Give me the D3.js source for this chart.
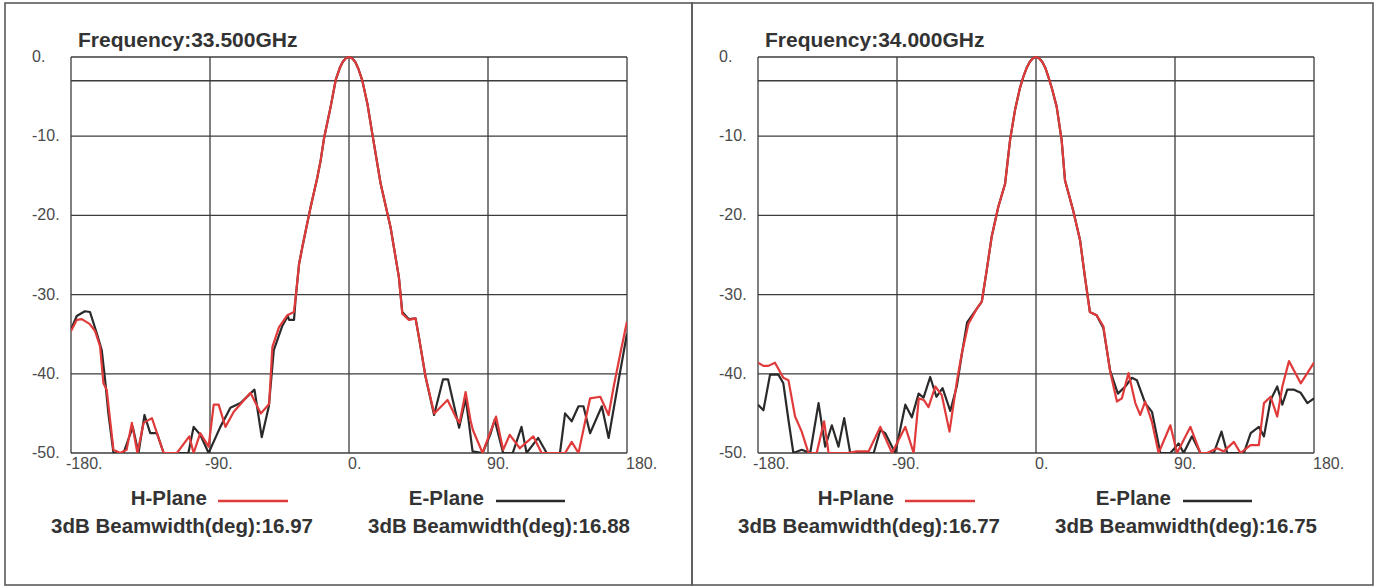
<!DOCTYPE html>
<html>
<head>
<meta charset="utf-8">
<script src="https://cdn.jsdelivr.net/npm/d3@7"></script>
<style>
  html, body { margin: 0; padding: 0; background: #fff; }
  svg { display: block; }
</style>
</head>
<body>
<svg id="chart" width="1386" height="588"></svg>
<script>
// ---------- data ----------
const frequencies = ["Frequency:33.500GHz", "Frequency:34.000GHz"];
const beamwidthH = ["16.97", "16.77"];
const beamwidthE = ["16.88", "16.75"];
const xTicks = [-180, -90, 0, 90, 180];
const yTicks = [0, -10, -20, -30, -40, -50];
const halfPowerLine = -3;

// 33.5 GHz, H-plane [angle deg, level dB]
const h335 = [[-180,-34.6],[-176.3,-33.2],[-173,-33.1],[-168,-33.7],[-164.4,-34.6],[-161.2,-36.5],[-159,-41.2],[-156.9,-42],
  [-152.5,-49.6],[-148.2,-50],[-144,-49.6],[-140.6,-46.2],[-137,-50],[-133,-46.2],[-127.6,-45.6],[-120,-50],[-111.4,-50],
  [-103.4,-47.9],[-100.6,-50],[-96.3,-47.5],[-90.9,-49.2],[-87.6,-43.9],[-84.4,-43.9],[-80,-46.7],[-74.6,-44.8],[-63.8,-42.4],
  [-57.1,-45],[-53,-44.1],[-51.7,-43.8],[-49.6,-36.6],[-45.3,-34.1],[-39.9,-32.6],[-35.7,-32.2],[-34.5,-30.3],[-32.3,-26.1],
  [-30.2,-24],[-28,-21.9],[-24.8,-18.9],[-20.5,-15.2],[-18.3,-13],[-16.2,-10.3],[-11.9,-6.3],[-8.6,-2.9],[-6,-1.4],[-4,-0.6],
  [-2,-0.15],[0,0],[2,-0.15],[4,-0.6],[6,-1.45],
  [8.6,-2.95],[12,-6],[15.1,-9.7],[20.5,-16],[26.9,-21.5],[32.3,-27.8],[34.5,-32.4],[38.8,-33.2],[43.1,-33],
  [45.3,-35.4],[49.6,-40.4],[55.2,-45],[63.8,-43.3],[69.5,-45.6],[71.6,-46.2],[75.5,-42.3],[78.7,-45.9],[80.2,-47.1],
  [86.5,-50],[95.2,-45.4],[99.8,-49.6],[104.1,-47.7],[110.6,-49.4],[119.3,-47.9],[124.7,-50],[139.9,-50],[144.2,-48.6],
  [148.6,-50],[156.1,-43.1],[162.7,-42.9],[168.1,-45.2],[171.4,-41.6],[175.7,-37.4],[180,-33.4]];

// 33.5 GHz, E-plane
const e335 = [[-180,-34.4],[-176.3,-32.7],[-171,-32.1],[-167.7,-32.2],[-163.3,-34.9],[-160.1,-37],[-157.9,-40.8],[-155.8,-45],
  [-152.5,-50],[-146,-50],[-140,-46.7],[-136.3,-50],[-132.4,-45.2],[-128.7,-47.5],[-124.4,-47.5],[-120,-50],[-104,-50],
  [-100.6,-46.7],[-96.3,-47.7],[-90.9,-50],[-83.3,-46.7],[-76.8,-44.3],[-70.3,-43.7],[-61.2,-42],[-56.5,-48],[-51.9,-44.1],
  [-48.7,-37],[-43.3,-34],[-39.6,-32.7],[-38.8,-33.2],[-35.6,-33.2],[-34.6,-30.6],[-32.3,-26.1],[-30.2,-24],[-28,-21.9],
  [-24.8,-18.9],[-20.5,-15.2],[-18.3,-13],[-16.2,-10.3],[-11.9,-6.3],[-8.6,-2.9],[-6,-1.4],[-4,-0.6],[-2,-0.15],[0,0],
  [2,-0.15],[4,-0.6],[6,-1.45],
  [8.6,-2.95],[12,-6],[15.1,-9.7],[20.5,-16],[26.9,-21.5],[32.3,-27.8],[34.5,-32.2],[38.8,-33.1],[43.1,-33],
  [45.3,-35.4],[49.6,-40.4],[55.1,-45.2],[60.9,-40.7],[64.1,-40.7],[71.3,-46.8],[75.6,-43.1],[80,-49.8],[86.5,-50],
  [91.6,-47.6],[94.3,-45.8],[99.8,-50],[106,-50],[111.7,-46.7],[115,-50],[122.5,-48.1],[128,-50],[136.6,-50],[139.9,-45],
  [144.2,-46],[148.6,-44.1],[151.8,-44.1],[156.1,-47.5],[163.7,-44.1],[168.1,-48.1],[174.6,-40.8],[180,-34.9]];

// 34.0 GHz, H-plane
const h340 = [[-180,-38.6],[-176.5,-39],[-173.3,-39],[-169,-38.6],[-163.6,-40.5],[-160.3,-40.8],[-156,-45.4],[-151.7,-47.3],
  [-147.3,-50],[-142,-50],[-137.2,-46],[-134.3,-50],[-122,-50],[-116,-49.8],[-108.4,-49.8],[-100.8,-46.7],[-93.2,-50],
  [-84.6,-46.7],[-79.2,-50],[-75.9,-43.1],[-72.7,-43.3],[-69.6,-44.2],[-65.2,-41.6],[-61,-42.7],[-56,-47.3],[-51.1,-40.8],
  [-48.1,-37.5],[-43.8,-33.7],[-38.4,-31.8],[-35.1,-30.9],[-31.9,-26.9],[-28.7,-22.7],[-24.4,-18.9],[-20,-16],[-16.8,-10.5],
  [-13.6,-6.7],[-10.5,-4],[-8.2,-2.5],[-6,-1.35],[-4,-0.6],[-2,-0.15],[0,0],[2,-0.15],[4,-0.6],[6,-1.35],[8,-2.5],[10.5,-4.1],
  [13.4,-6.3],[16.6,-10.5],[18.8,-15.6],[24.1,-19.4],[28.5,-23.1],
  [31.7,-27.8],[34.9,-32.2],[39.2,-32.6],[43.6,-34],[48,-39.7],[52.4,-43.5],[55.6,-43.1],[59.9,-39.9],[64.3,-43.7],
  [67.5,-45.2],[70.7,-43.5],[75.1,-46.1],[79.4,-50],[87,-46.5],[91.3,-50],[100,-46.7],[106.4,-50],[110.8,-50],[117.3,-49.4],
  [121.6,-49.8],[128.1,-48.6],[132.4,-50],[138.9,-49],[144.3,-49],[147.6,-43.7],[151.9,-42.9],[156.2,-45.4],[159.5,-41.6],
  [163.8,-38.4],[171.4,-41.2],[180,-38.6]];

// 34.0 GHz, E-plane
const e340 = [[-180,-43.9],[-176.5,-44.6],[-172.2,-40.1],[-166.8,-40.1],[-163.6,-41.2],[-160.3,-45.8],[-157.1,-50],[-151.7,-49.6],
  [-146.2,-50],[-140.8,-43.7],[-136.5,-49.2],[-132.2,-46.5],[-127.9,-49.2],[-124.2,-45.6],[-120.3,-50],[-105.1,-50],
  [-100.8,-47.1],[-97.6,-47.5],[-91.1,-50],[-84.6,-43.9],[-80.4,-45.5],[-76,-42.5],[-72.8,-43],[-68.5,-40.4],[-64.5,-42.9],
  [-60.5,-41.8],[-55.5,-44.7],[-51.2,-41.5],[-48,-37.5],[-44.6,-33.5],[-38.4,-31.8],[-35.1,-30.9],[-31.9,-26.9],[-28.7,-22.7],
  [-24.4,-18.9],[-20,-16],[-16.8,-10.5],[-13.6,-6.7],[-10.5,-4],[-8.2,-2.5],[-6,-1.35],[-4,-0.6],[-2,-0.15],[0,0],[2,-0.15],
  [4,-0.6],[6,-1.35],[8,-2.5],[10.5,-4.1],[13.4,-6.3],[16.6,-10.5],
  [18.8,-15.6],[24.1,-19.4],[28.5,-23.1],[31.7,-27.8],[34.9,-32.2],[39.2,-32.6],[43.6,-34.2],[48,-39.6],[53,-42.5],
  [57.8,-41.6],[62.1,-40.5],[65.3,-40.8],[70.7,-43.7],[75.1,-44.8],[80.5,-50],[87,-50],[92.4,-48.8],[95.6,-50],[101,-47.9],
  [106.4,-50],[115.1,-50],[120.1,-47.3],[123.8,-50],[134.6,-50],[139,-47.5],[144.3,-46.7],[147.6,-47.9],[151.9,-43.3],
  [156.2,-41.6],[159.5,-43.9],[162.7,-42],[167.1,-42],[171.4,-42.4],[175.7,-43.7],[180,-43.1]];

const hSeries = [h335, h340];
const eSeries = [e335, e340];

// ---------- drawing ----------
const svg = d3.select("#chart");
const FONT = "'Liberation Sans', Arial, sans-serif";
const panelShift = 687;
const frames = [[5, 687], [692, 681]];

[0, 1].forEach(i => {
  const dx = i * panelShift;
  const g = svg.append("g");

  g.append("rect")
    .attr("x", frames[i][0]).attr("y", 3)
    .attr("width", frames[i][1]).attr("height", 582)
    .attr("fill", "none").attr("stroke", "#5a5a5a").attr("stroke-width", 1.6);

  const x = d3.scaleLinear().domain([-180, 180]).range([71 + dx, 627 + dx]);
  const y = d3.scaleLinear().domain([-50, 0]).range([453, 57]);

  // grid
  g.selectAll(".hg").data(yTicks.concat([halfPowerLine])).enter().append("line")
    .attr("x1", x(-180)).attr("x2", x(180))
    .attr("y1", d => y(d)).attr("y2", d => y(d))
    .attr("stroke", "#3c3c3c").attr("stroke-width", 1.3);
  g.selectAll(".vg").data(xTicks).enter().append("line")
    .attr("x1", d => x(d)).attr("x2", d => x(d))
    .attr("y1", y(0)).attr("y2", y(-50))
    .attr("stroke", "#3c3c3c").attr("stroke-width", 1.3);

  // tick labels
  g.selectAll(".yl").data(yTicks).enter().append("text")
    .attr("x", 32 + dx).attr("y", d => y(d) + 5)
    .attr("font-family", FONT).attr("font-size", 16).attr("fill", "#4a4a4a")
    .text(d => d + ".");
  g.selectAll(".xl").data(xTicks).enter().append("text")
    .attr("x", d => x(d) - (d < 0 ? 5 : 1)).attr("y", 469)
    .attr("font-family", FONT).attr("font-size", 16).attr("fill", "#4a4a4a")
    .text(d => d + ".");

  // title
  g.append("text").attr("x", 78 + dx).attr("y", 47)
    .attr("font-family", FONT).attr("font-size", 21).attr("font-weight", "bold").attr("fill", "#333")
    .text(frequencies[i]);

  // curves
  const clipId = "clip" + i;
  svg.append("clipPath").attr("id", clipId).append("rect")
    .attr("x", x(-180)).attr("y", y(0) - 2).attr("width", x(180) - x(-180)).attr("height", y(-50) - y(0) + 2);
  const line = d3.line().x(d => x(d[0])).y(d => y(Math.max(-50, d[1])));
  g.append("path").datum(eSeries[i]).attr("d", line)
    .attr("fill", "none").attr("stroke", "#2a2a2a").attr("stroke-width", 2.2)
    .attr("stroke-linejoin", "round").attr("clip-path", `url(#${clipId})`);
  g.append("path").datum(hSeries[i]).attr("d", line)
    .attr("fill", "none").attr("stroke", "#e03a3a").attr("stroke-width", 2.2)
    .attr("stroke-linejoin", "round").attr("clip-path", `url(#${clipId})`);

  // legend
  const lg = g.append("g").attr("font-family", FONT).attr("font-weight", "bold")
    .attr("font-size", 20.5).attr("fill", "#333");
  lg.append("text").attr("x", 207 + dx).attr("y", 505).attr("text-anchor", "end").text("H-Plane");
  lg.append("line").attr("x1", 218 + dx).attr("x2", 288 + dx).attr("y1", 501).attr("y2", 501)
    .attr("stroke", "#e03a3a").attr("stroke-width", 2.5);
  lg.append("text").attr("x", 484 + dx).attr("y", 505).attr("text-anchor", "end").text("E-Plane");
  lg.append("line").attr("x1", 496 + dx).attr("x2", 565 + dx).attr("y1", 501).attr("y2", 501)
    .attr("stroke", "#2a2a2a").attr("stroke-width", 2.5);
  lg.append("text").attr("x", 51 + dx).attr("y", 533).text("3dB Beamwidth(deg):" + beamwidthH[i]);
  lg.append("text").attr("x", 368 + dx).attr("y", 533).text("3dB Beamwidth(deg):" + beamwidthE[i]);
});
</script>
</body>
</html>
